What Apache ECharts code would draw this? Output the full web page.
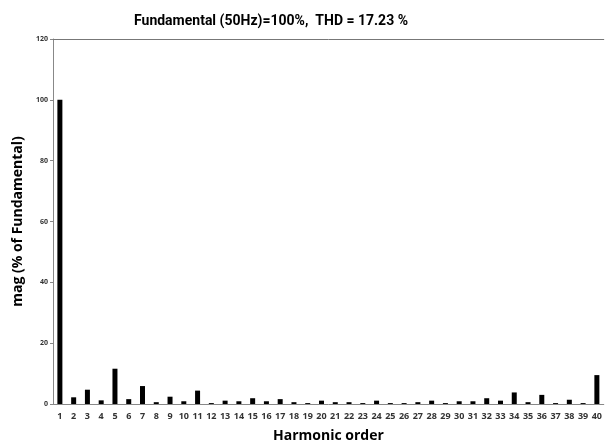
<!DOCTYPE html>
<html>
<head>
<meta charset="utf-8">
<script src="https://cdn.jsdelivr.net/npm/echarts@6/dist/echarts.min.js"></script>
<style>
  html, body { margin: 0; padding: 0; background: #fff; }
  #chart { width: 605px; height: 448px; }
</style>
</head>
<body>
<div id="chart"></div>
<script>
// Harmonic orders 1..40
const harmonicOrders = [
  '1','2','3','4','5','6','7','8','9','10',
  '11','12','13','14','15','16','17','18','19','20',
  '21','22','23','24','25','26','27','28','29','30',
  '31','32','33','34','35','36','37','38','39','40'
];
// Magnitude of each harmonic, % of the fundamental
const magnitudes = [
  100, 2.2, 4.7, 1.2, 11.6, 1.6, 5.9, 0.6, 2.4, 0.9,
  4.4, 0.3, 1.1, 0.9, 1.9, 0.9, 1.6, 0.6, 0.3, 1.1,
  0.6, 0.6, 0.3, 1.1, 0.3, 0.3, 0.6, 1.1, 0.3, 0.9,
  0.9, 1.9, 1.1, 3.8, 0.6, 3.0, 0.3, 1.4, 0.3, 9.5
];
const yTicks = [0, 20, 40, 60, 80, 100, 120];

const chartTitle = 'Fundamental (50Hz)=100%,  THD = 17.23 %';
const xName = 'Harmonic order';
const yName = 'mag (% of Fundamental)';

const font = 'Open Sans, Liberation Sans, sans-serif';
const titleFont = 'Roboto, Open Sans, sans-serif';
const chart = echarts.init(document.getElementById('chart'), null, { renderer: 'canvas' });

chart.setOption({
  animation: false,
  backgroundColor: '#ffffff',
  title: {
    text: chartTitle,
    left: 266,
    textAlign: 'center',
    top: 9,
    textStyle: { fontFamily: titleFont, fontSize: 14, fontWeight: 'bold', color: '#000' }
  },
  grid: { left: 53, right: 0, top: 39, bottom: 42 },
  xAxis: [{
    type: 'category',
    data: harmonicOrders,
    name: xName,
    nameLocation: 'middle',
    nameGap: 25,
    nameTextStyle: { fontFamily: font, fontSize: 14, fontWeight: 'bold', color: '#000' },
    axisLine: { lineStyle: { color: '#888', width: 1 } },
    axisTick: { show: false },
    axisLabel: { interval: 0, fontFamily: font, fontSize: 9, fontWeight: 'bold', color: '#333', margin: 8 }
  }, {
    type: 'category',
    data: harmonicOrders,
    position: 'top',
    axisLine: { show: true, lineStyle: { color: '#777', width: 1 } },
    axisTick: { show: false },
    axisLabel: { show: false }
  }],
  yAxis: {
    type: 'value',
    min: yTicks[0],
    max: yTicks[yTicks.length - 1],
    interval: 20,
    name: yName,
    nameLocation: 'middle',
    nameGap: 28,
    nameTextStyle: { fontFamily: font, fontSize: 14, fontWeight: 'bold', color: '#000' },
    axisLine: { show: true, lineStyle: { color: '#888', width: 1 } },
    axisTick: { show: true, length: 3, lineStyle: { color: '#888' } },
    splitLine: { show: false },
    axisLabel: { fontFamily: font, fontSize: 7, fontWeight: 'bold', color: '#333', margin: 5 }
  },
  series: [{
    type: 'bar',
    data: magnitudes,
    barWidth: 5,
    itemStyle: { color: '#000' }
  }]
});
</script>
</body>
</html>
